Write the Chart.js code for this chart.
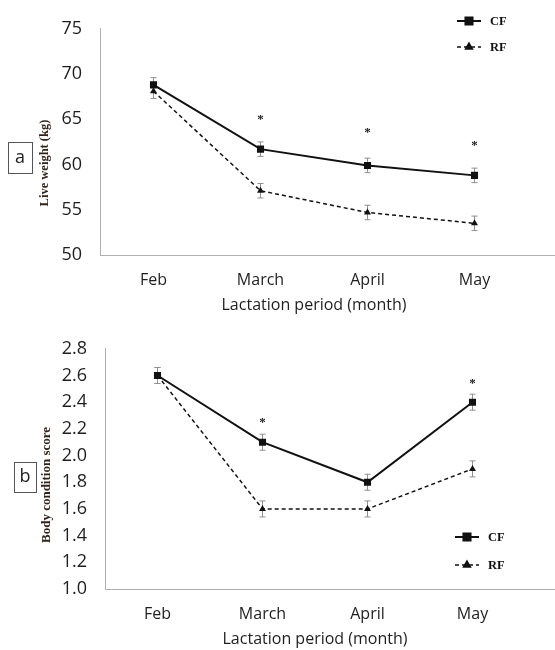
<!DOCTYPE html>
<html>
<head>
<meta charset="utf-8">
<script src="https://cdn.jsdelivr.net/npm/chart.js@4.4.1/dist/chart.umd.min.js"></script>
<style>
html, body { margin: 0; padding: 0; background: #fff; overflow: hidden; }
.panel { position: relative; width: 555px; }
</style>
</head>
<body>
<div class="panel" style="height:320px"><canvas id="weight"></canvas></div>
<div class="panel" style="height:330px"><canvas id="bcs"></canvas></div>
<script>
const months = ['Feb', 'March', 'April', 'May'];

// panel a - live weight (kg)
const weightCF = [68.8, 61.7, 59.9, 58.8];
const weightRF = [68.1, 57.1, 54.7, 53.5];
const weightErrCF = [0.8, 0.8, 0.8, 0.8];
const weightErrRF = [0.8, 0.8, 0.8, 0.8];
const weightStars = [null, 65.3, 63.8, 62.4];

// panel b - body condition score
const bcsCF = [2.6, 2.1, 1.8, 2.4];
const bcsRF = [2.6, 1.6, 1.6, 1.9];
const bcsErrCF = [0.06, 0.06, 0.06, 0.06];
const bcsErrRF = [0.06, 0.06, 0.06, 0.06];
const bcsStars = [null, 2.27, null, 2.56];

const tickFont = 'Open Sans';
const serif = 'Liberation Serif';

const drawMarker = (ctx, style, x, y) => {
    Chart.helpers.drawPoint(ctx, { pointStyle: style, radius: style === 'rect' ? 5 : 4, rotation: 0, borderWidth: 1 }, x, y);
    ctx.fill();
}

const extras = {
    id: 'extras',
    beforeDatasetsDraw(chart, args, opts) {
        const { ctx, scales: { x, y } } = chart;
        ctx.save();
        ctx.strokeStyle = '#8f8f8f';
        ctx.lineWidth = 1;
        opts.errors.forEach((errs, d) => {
            chart.data.datasets[d].data.forEach((v, i) => {
                const px = x.getPixelForValue(i);
                const t = y.getPixelForValue(v + errs[i]);
                const b = y.getPixelForValue(v - errs[i]);
                ctx.beginPath();
                ctx.moveTo(px, t); ctx.lineTo(px, b);
                ctx.moveTo(px - 3, t); ctx.lineTo(px + 3, t);
                ctx.moveTo(px - 3, b); ctx.lineTo(px + 3, b);
                ctx.stroke();
            });
        });
        ctx.restore();
    },
    afterDraw(chart, args, opts) {
        const { ctx, chartArea, scales: { x, y } } = chart;
        ctx.save();

        // x axis line runs on to the edge
        ctx.strokeStyle = '#b0b0b0';
        ctx.lineWidth = 1;
        ctx.beginPath();
        ctx.moveTo(chartArea.right, chartArea.bottom + 0.5);
        ctx.lineTo(chart.width, chartArea.bottom + 0.5);
        ctx.stroke();

        // significance stars
        ctx.fillStyle = '#222';
        ctx.font = `bold 13px ${serif}`;
        ctx.textAlign = 'center';
        ctx.textBaseline = 'middle';
        opts.stars.forEach((v, i) => {
            if (v === null) return;
            ctx.fillText('*', x.getPixelForValue(i), y.getPixelForValue(v) + 3);
        });

        // y title
        ctx.save();
        ctx.translate(opts.yTitle.x, opts.yTitle.y);
        ctx.rotate(-Math.PI / 2);
        ctx.fillStyle = '#33241a';
        ctx.font = `bold ${opts.yTitle.size}px ${serif}`;
        ctx.fillText(opts.yTitle.text, 0, 0);
        ctx.restore();

        // panel letter
        const bx = opts.letter;
        ctx.strokeStyle = '#555';
        ctx.lineWidth = 1;
        ctx.strokeRect(bx.x + 0.5, bx.y + 0.5, bx.w, bx.h);
        ctx.fillStyle = '#222';
        ctx.font = `18px ${tickFont}`;
        ctx.fillText(bx.text, bx.x + bx.w / 2, bx.y + bx.h / 2);

        // legend
        const lg = opts.legend;
        chart.data.datasets.forEach((ds, d) => {
            const ly = lg.y + d * lg.gap;
            ctx.strokeStyle = '#111';
            ctx.fillStyle = '#111';
            ctx.lineWidth = ds.borderWidth;
            ctx.setLineDash(ds.borderDash || []);
            ctx.beginPath();
            ctx.moveTo(lg.x, ly);
            ctx.lineTo(lg.x + 24, ly);
            ctx.stroke();
            ctx.setLineDash([]);
            drawMarker(ctx, ds.pointStyle, lg.x + 12, ly);
            ctx.font = `bold 12.5px ${serif}`;
            ctx.textAlign = 'left';
            ctx.fillText(ds.label, lg.x + 33, ly + 1);
        });
        ctx.restore();
    }
};

const makeChart = (id, cf, rf, errCF, errRF, stars, yCfg, layout) => {
    return new Chart(document.getElementById(id), {
        type: 'line',
        data: {
            labels: months,
            datasets: [
                {
                    label: 'CF', data: cf,
                    borderColor: '#111', backgroundColor: '#111', borderWidth: 2,
                    pointStyle: 'rect', pointRadius: 5, pointBackgroundColor: '#111', pointBorderWidth: 0
                },
                {
                    label: 'RF', data: rf,
                    borderColor: '#111', backgroundColor: '#111', borderWidth: 1.5, borderDash: [4, 3],
                    pointStyle: 'triangle', pointRadius: 4, pointBackgroundColor: '#111', pointBorderWidth: 0
                }
            ]
        },
        options: {
            responsive: true,
            maintainAspectRatio: false,
            animation: false,
            devicePixelRatio: 1,
            layout: { padding: { top: layout.top, right: layout.right, left: 0, bottom: 0 } },
            plugins: {
                legend: { display: false },
                tooltip: { enabled: false },
                extras: {
                    errors: [errCF, errRF],
                    stars: stars,
                    yTitle: layout.yTitle,
                    letter: layout.letter,
                    legend: layout.legend
                }
            },
            scales: {
                x: {
                    offset: true,
                    grid: { display: false, drawTicks: false },
                    border: { color: '#b0b0b0' },
                    ticks: { color: '#1e1e1e', font: { family: tickFont, size: 16 }, padding: 16 },
                    title: {
                        display: true, text: 'Lactation period (month)', color: '#1e1e1e',
                        font: { family: tickFont, size: 16 }, padding: { top: 0, bottom: layout.titlePad }
                    },
                    afterFit: s => { s.height = layout.xHeight; }
                },
                y: {
                    min: yCfg.min, max: yCfg.max,
                    grid: { display: false, drawTicks: false },
                    border: { color: '#b0b0b0' },
                    ticks: {
                        stepSize: yCfg.step, padding: 18, color: '#1e1e1e',
                        font: { family: tickFont, size: 18 },
                        callback: v => yCfg.fixed ? Number(v).toFixed(1) : v
                    },
                    afterFit: s => { s.width = layout.left; }
                }
            }
        },
        plugins: [extras]
    });
}

makeChart('weight', weightCF, weightRF, weightErrCF, weightErrRF, weightStars,
    { min: 50, max: 75, step: 5, fixed: false },
    {
        top: 27, right: 27, left: 100, xHeight: 65, titlePad: 5,
        yTitle: { text: 'Live weight (kg)', x: 45, y: 163, size: 12.5 },
        letter: { text: 'a', x: 8, y: 142, w: 24, h: 31 },
        legend: { x: 457, y: 21, gap: 26 }
    });

makeChart('bcs', bcsCF, bcsRF, bcsErrCF, bcsErrRF, bcsStars,
    { min: 1.0, max: 2.8, step: 0.2, fixed: true },
    {
        top: 27, right: 30, left: 105, xHeight: 61, titlePad: 1,
        yTitle: { text: 'Body condition score', x: 47, y: 165, size: 13 },
        letter: { text: 'b', x: 14, y: 142, w: 22, h: 30 },
        legend: { x: 455, y: 217, gap: 28 }
    });
</script>
</body>
</html>
